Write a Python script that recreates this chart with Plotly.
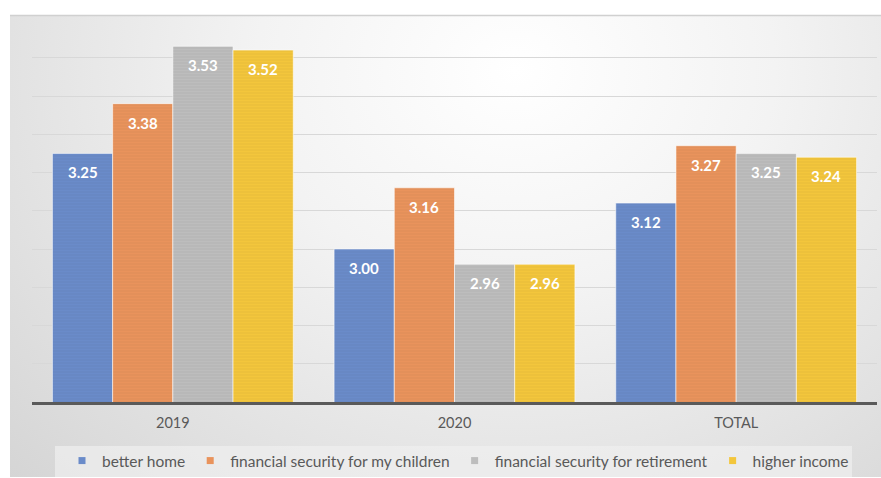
import base64
import plotly.graph_objects as go

# Survey means by year
categories = ["2019", "2020", "TOTAL"]
better_home = [3.25, 3.00, 3.12]
children_security = [3.38, 3.16, 3.27]
retirement_security = [3.53, 2.96, 3.25]
higher_income = [3.52, 2.96, 3.24]

series_names = [
    "better home",
    "financial security for my children",
    "financial security for retirement",
    "higher income",
]
series_values = [better_home, children_security, retirement_security, higher_income]
series_colors = ["#6a8bc9", "#e9935c", "#bdbdbd", "#f3c63c"]

y_range = [2.6, 3.6]
grid_values = [2.7, 2.8, 2.9, 3.0, 3.1, 3.2, 3.3, 3.4, 3.5]

W, H = 881, 478
FONT = "Lato, 'Liberation Sans', Arial, sans-serif"


def px(x):
    return x / W


def py(y):
    return 1 - y / H


# soft radial backdrop for the chart panel
svg = f"""<svg xmlns='http://www.w3.org/2000/svg' width='871' height='462' viewBox='0 0 871 462'>
<defs><radialGradient id='g' cx='0.58' cy='0.12' r='0.85' gradientTransform='translate(0.58 0.12) scale(1 1.6) translate(-0.58 -0.12)'>
<stop offset='0' stop-color='#ffffff'/><stop offset='0.35' stop-color='#f3f3f3'/>
<stop offset='1' stop-color='#d2d2d2'/></radialGradient></defs>
<rect width='871' height='462' fill='url(#g)'/></svg>"""
bg_src = "data:image/svg+xml;base64," + base64.b64encode(svg.encode()).decode()

fig = go.Figure()

for name, vals, col in zip(series_names, series_values, series_colors):
    fig.add_trace(go.Bar(
        x=categories, y=vals, name=name, showlegend=False,
        marker=dict(
            color=col,
            line=dict(color="rgba(255,255,255,0.55)", width=1),
            pattern=dict(shape="-", fillmode="overlay", fgcolor="#000000",
                         fgopacity=0.05, size=3, solidity=0.35),
        ),
        hoverinfo="x+y+name",
    ))

# legend entries with small square keys
for name, col in zip(series_names, series_colors):
    fig.add_trace(go.Scatter(
        x=[categories[0]], y=[None], mode="markers", name=name,
        marker=dict(symbol="square", size=7, color=col),
        hoverinfo="skip",
    ))

# value labels just below each bar top (x given as category index)
plot_left, plot_right = 32, 877
cat_w = (plot_right - plot_left) / len(categories)
bargap = 0.145
bar_w = cat_w * (1 - bargap) / len(series_names)
annotations = []
for i, vals in enumerate(series_values):
    off = (i - (len(series_names) - 1) / 2) * bar_w
    for j, v in enumerate(vals):
        annotations.append(dict(
            x=j, y=v, xref="x", yref="y", text=f"<b>{v:.2f}</b>", showarrow=False,
            xshift=off, yshift=-19, yanchor="middle",
            font=dict(family=FONT, size=15, color="#ffffff"),
        ))

fig.update_layout(
    width=W, height=H,
    margin=dict(l=0, r=0, t=0, b=0),
    paper_bgcolor="#ffffff",
    plot_bgcolor="rgba(0,0,0,0)",
    barmode="group", bargap=bargap, bargroupgap=0.0,
    font=dict(family=FONT, color="#595959"),
    xaxis=dict(
        type="category", categoryorder="array", categoryarray=categories,
        range=[-0.5, len(categories) - 0.5],
        domain=[px(plot_left), px(plot_right)],
        showline=True, linecolor="#5a5a5a", linewidth=2.5,
        showgrid=False, ticks="", ticklabelstandoff=6,
        tickfont=dict(size=14.5, color="#595959", family=FONT),
    ),
    yaxis=dict(
        domain=[py(402), py(19.5)], range=y_range,
        tickvals=grid_values, showticklabels=False,
        showgrid=True, gridcolor="#d8d8d8", gridwidth=1,
        zeroline=False, showline=False,
    ),
    legend=dict(
        orientation="h", x=px(62), xanchor="left", y=py(461), yanchor="middle",
        bgcolor="rgba(0,0,0,0)", font=dict(size=15.5, color="#595959", family=FONT),
        itemwidth=30,
    ),
    images=[dict(
        source=bg_src, xref="paper", yref="paper",
        x=px(10), y=py(15), sizex=px(881) - px(10), sizey=py(15) - py(477),
        xanchor="left", yanchor="top", sizing="stretch", layer="below",
    )],
    shapes=[
        dict(type="line", xref="paper", yref="paper", x0=px(10), x1=px(881),
             y0=py(15.5), y1=py(15.5), line=dict(color="#d0d0d0", width=1.5), layer="below"),
        dict(type="rect", xref="paper", yref="paper", x0=px(55), x1=px(852),
             y0=py(446), y1=py(477), fillcolor="rgba(240,240,240,0.7)",
             line=dict(width=0), layer="below"),
    ],
    annotations=annotations,
)

fig.write_html("out.html")
